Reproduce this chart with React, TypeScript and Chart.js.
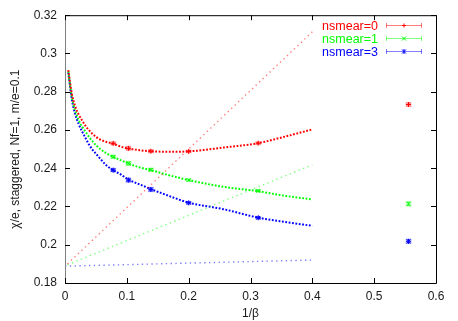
import React, { useEffect, useRef } from "react";
import { Chart, registerables } from "chart.js";

Chart.register(...registerables);

// ---- data ----
const seriesLabels = ["nsmear=0", "nsmear=1", "nsmear=3"];
const seriesColors = ["#ff0000", "#00ff00", "#0000ff"];
const lightColors = ["rgba(255,0,0,0.5)", "rgba(0,255,0,0.5)", "rgba(0,0,255,0.5)"];

const xTicks = [0, 0.1, 0.2, 0.3, 0.4, 0.5, 0.6];
const yTicks = [0.18, 0.2, 0.22, 0.24, 0.26, 0.28, 0.3, 0.32];

// measured points (1/beta)
const invBeta = [0.078, 0.1026, 0.1389, 0.2, 0.3125, 0.5556];
const chi0 = [0.253, 0.2504, 0.2489, 0.2488, 0.2531, 0.2733];
const chi1 = [0.246, 0.2425, 0.2392, 0.2338, 0.2282, 0.2214];
const chi3 = [0.239, 0.2338, 0.2289, 0.2219, 0.2141, 0.2018];
const err0 = [0.0006, 0.0008, 0.0006, 0.0005, 0.0005, 0.0008];
const err1 = [0.0007, 0.0009, 0.0007, 0.0005, 0.0005, 0.0009];
const err3 = [0.0007, 0.0009, 0.0009, 0.0005, 0.0005, 0.0009];

// fit curves
const fitX = [0.0053, 0.0108, 0.0162, 0.0221, 0.028, 0.0335, 0.0388, 0.0442, 0.0501, 0.0555, 0.0674, 0.078, 0.09, 0.1025, 0.121, 0.139, 0.17, 0.2, 0.256, 0.312, 0.353, 0.4];
const fit0 = [0.2913, 0.2794, 0.2726, 0.2681, 0.2648, 0.262, 0.2599, 0.258, 0.2564, 0.2552, 0.2537, 0.2528, 0.2513, 0.2503, 0.2494, 0.2489, 0.2486, 0.2488, 0.2508, 0.2531, 0.2563, 0.2603];
const fit1 = [0.2907, 0.2778, 0.2704, 0.2651, 0.2616, 0.259, 0.2564, 0.2542, 0.2521, 0.2504, 0.2477, 0.2459, 0.2442, 0.2425, 0.2404, 0.239, 0.2362, 0.2338, 0.2303, 0.228, 0.2257, 0.2237];
const fit3 = [0.2901, 0.2765, 0.2686, 0.2631, 0.259, 0.2556, 0.2524, 0.2498, 0.2476, 0.2455, 0.2414, 0.2389, 0.2368, 0.2341, 0.2315, 0.2291, 0.2253, 0.222, 0.2186, 0.2142, 0.212, 0.2099];

// straight (linear) lines
const line0X = [0.004, 0.4];
const line0Y = [0.19, 0.3113];
const line1X = [0.004, 0.4];
const line1Y = [0.1895, 0.2418];
const line3X = [0.0, 0.4];
const line3Y = [0.1888, 0.192];

const pts = (xs: number[], ys: number[]) => xs.map((x, i) => ({ x, y: ys[i] }));

const FONT = '"Liberation Sans", Arial, Helvetica, sans-serif';

export default function App() {
  const ref = useRef<HTMLCanvasElement | null>(null);

  useEffect(() => {
    document.body.style.margin = "0";
    const canvas = ref.current!;
    const pointData = [chi0, chi1, chi3];
    const errData = [err0, err1, err3];
    const fitData = [fit0, fit1, fit3];
    const lineXs = [line0X, line1X, line3X];
    const lineYs = [line0Y, line1Y, line3Y];
    const pointStyles = ["cross", "crossRot", "star"];

    const datasets: any[] = [];
    for (let s = 0; s < 3; s++) {
      datasets.push({
        label: seriesLabels[s] + " line",
        data: pts(lineXs[s], lineYs[s]),
        showLine: true,
        borderColor: lightColors[s],
        borderWidth: 1.4,
        borderDash: [1.4, 3.4],
        pointRadius: 0,
        fill: false,
        kind: "line",
      });
      datasets.push({
        label: seriesLabels[s] + " fit",
        data: pts(fitX, fitData[s]),
        showLine: true,
        borderColor: seriesColors[s],
        borderWidth: 2,
        borderDash: [1.8, 1.6],
        cubicInterpolationMode: "monotone",
        pointRadius: 0,
        fill: false,
        kind: "fit",
      });
      datasets.push({
        label: seriesLabels[s],
        data: pts(invBeta, pointData[s]),
        showLine: false,
        borderColor: seriesColors[s],
        backgroundColor: seriesColors[s],
        pointStyle: pointStyles[s],
        pointRadius: 2.5,
        pointBorderWidth: 1,
        errors: errData[s],
        series: s,
        kind: "points",
      });
    }

    const framePlugin = {
      id: "frame",
      beforeDatasetsDraw(chart: any) {
        const { ctx, chartArea: a, scales } = chart;
        ctx.save();
        // error bars with caps
        chart.data.datasets.forEach((ds: any) => {
          if (ds.kind !== "points") return;
          ctx.strokeStyle = lightColors[ds.series];
          ctx.fillStyle = ds.series === 0 ? "rgba(255,0,0,0.22)" : ds.series === 1 ? "rgba(0,255,0,0.22)" : "rgba(0,0,255,0.22)";
          ctx.lineWidth = 1;
          ds.data.forEach((p: any, i: number) => {
            const px = scales.x.getPixelForValue(p.x);
            const y1 = scales.y.getPixelForValue(p.y + ds.errors[i]);
            const y2 = scales.y.getPixelForValue(p.y - ds.errors[i]);
            ctx.fillRect(px - 3, Math.min(y1, y2 - 0) - 1, 6, Math.abs(y2 - y1) + 2);
            ctx.beginPath();
            ctx.moveTo(px, y1);
            ctx.lineTo(px, y2);
            ctx.moveTo(px - 2.5, y1);
            ctx.lineTo(px + 2.5, y1);
            ctx.moveTo(px - 2.5, y2);
            ctx.lineTo(px + 2.5, y2);
            ctx.stroke();
          });
        });
        ctx.restore();
      },
      afterDraw(chart: any) {
        const { ctx, chartArea: a, scales } = chart;
        ctx.save();
        // border
        ctx.lineWidth = 1;
        ctx.strokeStyle = "#000";
        ctx.beginPath();
        ctx.moveTo(a.left + 0.5, a.top + 0.5);
        ctx.lineTo(a.right + 0.5, a.top + 0.5);
        ctx.lineTo(a.right + 0.5, a.bottom + 0.5);
        ctx.lineTo(a.left + 0.5, a.bottom + 0.5);
        ctx.stroke();
        ctx.strokeStyle = "#808080";
        ctx.beginPath();
        ctx.moveTo(a.left + 0.5, a.top + 0.5);
        ctx.lineTo(a.left + 0.5, a.bottom + 0.5);
        ctx.stroke();
        // inward ticks
        ctx.strokeStyle = "#000";
        ctx.beginPath();
        const tl = 5;
        xTicks.forEach((v) => {
          const px = Math.round(scales.x.getPixelForValue(v)) + 0.5;
          ctx.moveTo(px, a.bottom);
          ctx.lineTo(px, a.bottom - tl);
          ctx.moveTo(px, a.top);
          ctx.lineTo(px, a.top + tl);
        });
        yTicks.forEach((v) => {
          const py = Math.round(scales.y.getPixelForValue(v)) + 0.5;
          ctx.moveTo(a.left, py);
          ctx.lineTo(a.left + tl, py);
          ctx.moveTo(a.right, py);
          ctx.lineTo(a.right - tl, py);
        });
        ctx.stroke();

        // legend
        ctx.font = "12.5px " + FONT;
        ctx.textAlign = "right";
        ctx.textBaseline = "middle";
        const rowY = [25.5, 38.5, 51.5];
        const textRight = 378;
        const sx1 = 386;
        const sx2 = 422;
        for (let s = 0; s < 3; s++) {
          const y = rowY[s];
          ctx.fillStyle = seriesColors[s];
          ctx.fillText(seriesLabels[s], textRight, y + 1);
          ctx.strokeStyle = lightColors[s];
          ctx.lineWidth = 1;
          ctx.beginPath();
          ctx.moveTo(sx1, y);
          ctx.lineTo(sx2, y);
          ctx.moveTo(sx1 + 0.5, y - 2.5);
          ctx.lineTo(sx1 + 0.5, y + 2.5);
          ctx.moveTo(sx2 - 0.5, y - 2.5);
          ctx.lineTo(sx2 - 0.5, y + 2.5);
          ctx.stroke();
          const mx = (sx1 + sx2) / 2;
          ctx.strokeStyle = seriesColors[s];
          ctx.beginPath();
          if (s === 0) {
            ctx.moveTo(mx - 2, y); ctx.lineTo(mx + 2, y);
            ctx.moveTo(mx, y - 2); ctx.lineTo(mx, y + 2);
          } else {
            ctx.moveTo(mx - 2, y - 2); ctx.lineTo(mx + 2, y + 2);
            ctx.moveTo(mx - 2, y + 2); ctx.lineTo(mx + 2, y - 2);
            if (s === 2) { ctx.moveTo(mx, y - 2.5); ctx.lineTo(mx, y + 2.5); }
          }
          ctx.stroke();
        }
        ctx.restore();
      },
    };

    const chart = new Chart(canvas, {
      type: "scatter",
      data: { datasets },
      options: {
        animation: false,
        responsive: false,
        devicePixelRatio: 1,
        layout: { padding: { top: 15, right: 22, left: 0, bottom: 0 } },
        plugins: { legend: { display: false }, tooltip: { enabled: false } },
        scales: {
          x: {
            type: "linear",
            min: 0,
            max: 0.6,
            afterFit: (s: any) => { s.height = 38; },
            afterBuildTicks: (s: any) => { s.ticks = xTicks.map((v) => ({ value: v })); },
            ticks: {
              padding: 6,
              color: "#1a1a1a",
              font: { family: FONT, size: 12 },
              callback: (v: any) => String(Number(Number(v).toFixed(2))),
            },
            grid: { display: false, drawTicks: false },
            border: { display: false },
            title: {
              display: true,
              text: "1/\u03b2",
              color: "#1a1a1a",
              font: { family: FONT, size: 12 },
              padding: { top: 0, bottom: 0 },
            },
          },
          y: {
            type: "linear",
            min: 0.18,
            max: 0.32,
            afterFit: (s: any) => { s.width = 65; },
            afterBuildTicks: (s: any) => { s.ticks = yTicks.map((v) => ({ value: v })); },
            ticks: {
              padding: 8,
              color: "#1a1a1a",
              font: { family: FONT, size: 12 },
              callback: (v: any) => String(Number(Number(v).toFixed(2))),
            },
            grid: { display: false, drawTicks: false },
            border: { display: false },
            title: {
              display: true,
              text: "\u03c7/e, staggered, Nf=1, m/e=0.1",
              color: "#1a1a1a",
              font: { family: FONT, size: 12 },
              padding: { top: 8, bottom: 0 },
            },
          },
        },
      },
      plugins: [framePlugin],
    } as any);

    return () => chart.destroy();
  }, []);

  return (
    <div style={{ width: 458, height: 321 }}>
      <canvas ref={ref} width={458} height={321} style={{ display: "block" }} />
    </div>
  );
}
